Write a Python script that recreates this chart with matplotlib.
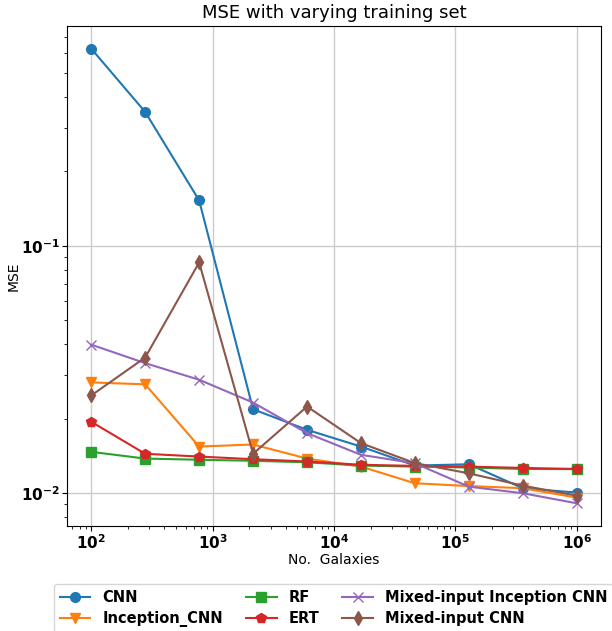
import numpy as np
import matplotlib
matplotlib.use("Agg")
import matplotlib.pyplot as plt

n_galaxies = [100, 278, 774, 2154, 5995, 16681, 46416, 129155, 359381, 1000000]

cnn = [0.627, 0.348, 0.1526, 0.0218, 0.0180, 0.0154, 0.0129, 0.01306, 0.01045, 0.01003]
inception_cnn = [0.0280, 0.0275, 0.0154, 0.0157, 0.01377, 0.01278, 0.01094, 0.01066, 0.01045, 0.00957]
rf = [0.01466, 0.01377, 0.01362, 0.01349, 0.0133, 0.0129, 0.01278, 0.01267, 0.0125, 0.01248]
ert = [0.0194, 0.0144, 0.01403, 0.01369, 0.0134, 0.0130, 0.01286, 0.01278, 0.01262, 0.0125]
mixed_inception = [0.0398, 0.0335, 0.0287, 0.0232, 0.01745, 0.01426, 0.01318, 0.0106, 0.00997, 0.00908]
mixed_cnn = [0.0248, 0.0353, 0.0856, 0.0144, 0.02236, 0.0159, 0.0132, 0.0120, 0.0107, 0.00975]

series = [
    ("CNN", cnn, "o", "#1f77b4"),
    ("Inception_CNN", inception_cnn, "v", "#ff7f0e"),
    ("RF", rf, "s", "#2ca02c"),
    ("ERT", ert, "p", "#d62728"),
    ("Mixed-input Inception CNN", mixed_inception, "x", "#9467bd"),
    ("Mixed-input CNN", mixed_cnn, "d", "#8c564b"),
]

fig = plt.figure(figsize=(6.12, 6.31), dpi=100)
ax = fig.add_axes([0.1095, 0.1664, 0.8725, 0.7924])

for label, vals, mk, col in series:
    ax.plot(n_galaxies, vals, marker=mk, color=col, label=label, lw=1.5, markersize=7)

ax.set_xscale("log")
ax.set_yscale("log")
ax.grid(True, which="major", color="#cccccc", lw=1)
ax.set_title("MSE with varying training set", fontsize=13)
ax.set_xlabel("No.  Galaxies", fontsize=10, labelpad=1)
ax.set_ylabel("MSE", fontsize=10, labelpad=0)
ax.tick_params(axis="both", which="major", labelsize=11, pad=1.5)
for t in ax.get_xticklabels(which="both") + ax.get_yticklabels(which="both"):
    t.set_fontweight("bold")

fig.legend(loc="upper left", bbox_to_anchor=(54 / 612, 1 - 584 / 631), ncol=3,
           prop={"weight": "bold", "size": 10.5}, columnspacing=1.6, handlelength=2.1,
           labelspacing=0.4, borderaxespad=0.0)

fig.savefig("out.png", dpi=100)
